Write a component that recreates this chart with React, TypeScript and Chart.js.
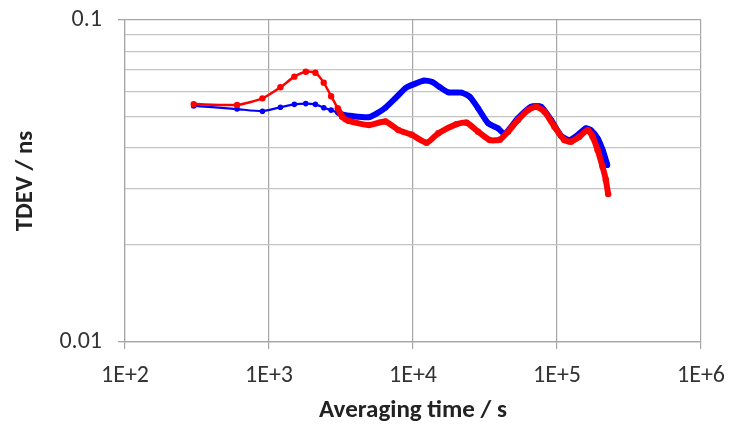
import React, { useEffect, useRef } from "react";
import { Chart, registerables } from "chart.js";

Chart.register(...registerables);

const redX = [300, 600, 900, 1200, 1500, 1800, 2100, 2400, 2700, 3000, 3220, 3580, 4930, 6430, 7940, 9800, 12450, 15000, 20080, 23540, 28330, 34100, 40000, 45700, 53560, 62850, 71700, 81900, 96000, 112500, 125000, 142900, 163300, 176700, 191300, 207200, 218300, 226600];
const redY = [0.0548, 0.0545, 0.0571, 0.0618, 0.0667, 0.0691, 0.0686, 0.0639, 0.058, 0.0532, 0.0501, 0.0486, 0.0472, 0.0484, 0.0455, 0.044, 0.0416, 0.0445, 0.0475, 0.048, 0.045, 0.0424, 0.0425, 0.045, 0.0489, 0.0525, 0.0538, 0.0519, 0.0466, 0.0424, 0.0419, 0.0434, 0.0455, 0.0434, 0.0395, 0.035, 0.0319, 0.0288];

const blueX = [300, 600, 900, 1200, 1500, 1800, 2100, 2400, 2700, 3000, 3220, 3780, 4930, 5620, 6430, 7530, 8840, 9800, 11820, 13490, 15400, 17590, 21740, 24830, 28330, 33240, 38900, 43300, 53560, 66100, 77600, 91000, 106600, 121900, 139000, 158500, 171700, 191300, 207200, 224000];
const blueY = [0.0541, 0.0529, 0.0521, 0.0536, 0.0547, 0.055, 0.0547, 0.0534, 0.0525, 0.0516, 0.0509, 0.0503, 0.0499, 0.0513, 0.0534, 0.0571, 0.0614, 0.0628, 0.0648, 0.0643, 0.0618, 0.0596, 0.0595, 0.0577, 0.0532, 0.0478, 0.0461, 0.0443, 0.0495, 0.0538, 0.0538, 0.0489, 0.0437, 0.0424, 0.0439, 0.0461, 0.0455, 0.0429, 0.0395, 0.0354];

const xTicks = [1e2, 1e3, 1e4, 1e5, 1e6];
const xTickLabels = ["1E+2", "1E+3", "1E+4", "1E+5", "1E+6"];
const yTicks = [0.01, 0.02, 0.03, 0.04, 0.05, 0.06, 0.07, 0.08, 0.09, 0.1];
const yMajor = [0.01, 0.1];
const yMajorLabels = ["0.01", "0.1"];

const FONT = "Carlito, Lato, sans-serif";

export default function App() {
  const ref = useRef<HTMLCanvasElement | null>(null);

  useEffect(() => {
    if (!ref.current) return;
    const toPts = (xs: number[], ys: number[]) => xs.map((x, i) => ({ x, y: ys[i] }));
    const seg = (thin: number, thick: number) => ({
      borderWidth: (ctx: any) => (ctx.p0.parsed.x >= 3000 ? thick : thin),
    });
    const chart = new Chart(ref.current, {
      type: "line",
      data: {
        datasets: [
          {
            label: "red",
            data: toPts(redX, redY),
            borderColor: "#ff0000",
            backgroundColor: "#ff0000",
            borderWidth: 2.5,
            pointRadius: 3.2,
            pointBorderWidth: 0,
            tension: 0.2,
            segment: seg(2.5, 6),
          },
          {
            label: "blue",
            data: toPts(blueX, blueY),
            borderColor: "#0000ff",
            backgroundColor: "#0000ff",
            borderWidth: 2.2,
            pointRadius: 2.8,
            pointBorderWidth: 0,
            tension: 0.2,
            segment: seg(2.2, 6),
          },
        ],
      },
      options: {
        responsive: false,
        animation: false,
        layout: { padding: { top: 20, right: 28, left: 0, bottom: 0 } },
        plugins: { legend: { display: false }, tooltip: { enabled: false } },
        scales: {
          x: {
            type: "logarithmic",
            min: 100,
            max: 1e6,
            afterBuildTicks: (s: any) => {
              s.ticks = xTicks.map((v) => ({ value: v }));
            },
            afterFit: (s: any) => {
              s.height = 88;
              s.paddingLeft = 0;
              s.paddingRight = 0;
            },
            ticks: {
              autoSkip: false,
              maxRotation: 0,
              padding: 13,
              color: "#333333",
              font: { family: FONT, size: 24 },
              callback: (v: any) => {
                const i = xTicks.indexOf(Number(v));
                return i >= 0 ? xTickLabels[i] : "";
              },
            },
            grid: { color: "#a6a6a6", tickLength: 7, tickColor: "#a6a6a6", lineWidth: 1.2 },
            border: { color: "#a6a6a6", width: 1.2 },
            title: {
              display: true,
              text: "Averaging time / s",
              color: "#222222",
              font: { family: FONT, size: 25, weight: "bold" },
              padding: { top: 0, bottom: 4 },
            },
          },
          y: {
            type: "logarithmic",
            min: 0.01,
            max: 0.1,
            afterBuildTicks: (s: any) => {
              s.ticks = yTicks.map((v) => ({ value: v }));
            },
            afterFit: (s: any) => {
              s.width = 125;
              s.paddingTop = 0;
              s.paddingBottom = 0;
            },
            ticks: {
              autoSkip: false,
              padding: 16,
              color: "#333333",
              font: { family: FONT, size: 24 },
              callback: (v: any) => {
                const i = yMajor.indexOf(Number(v));
                return i >= 0 ? yMajorLabels[i] : "";
              },
            },
            grid: {
              color: (ctx: any) => (yMajor.includes(ctx.tick?.value) ? "#a6a6a6" : "#c4c4c4"),
              lineWidth: 1.3,
              tickLength: 7,
              tickColor: (ctx: any) => (yMajor.includes(ctx.tick?.value) ? "#a6a6a6" : "rgba(0,0,0,0)"),
            },
            border: { color: "#a6a6a6", width: 1.2 },
            title: {
              display: true,
              text: "TDEV / ns",
              color: "#222222",
              font: { family: FONT, size: 25, weight: "bold" },
              padding: { top: 11, bottom: 0 },
            },
          },
        },
      },
    } as any);
    return () => chart.destroy();
  }, []);

  return (
    <div style={{ position: "fixed", left: 0, top: 0, width: 729, height: 430, background: "#fff" }}>
      <canvas ref={ref} width={729} height={430} style={{ width: 729, height: 430, display: "block" }} />
    </div>
  );
}
